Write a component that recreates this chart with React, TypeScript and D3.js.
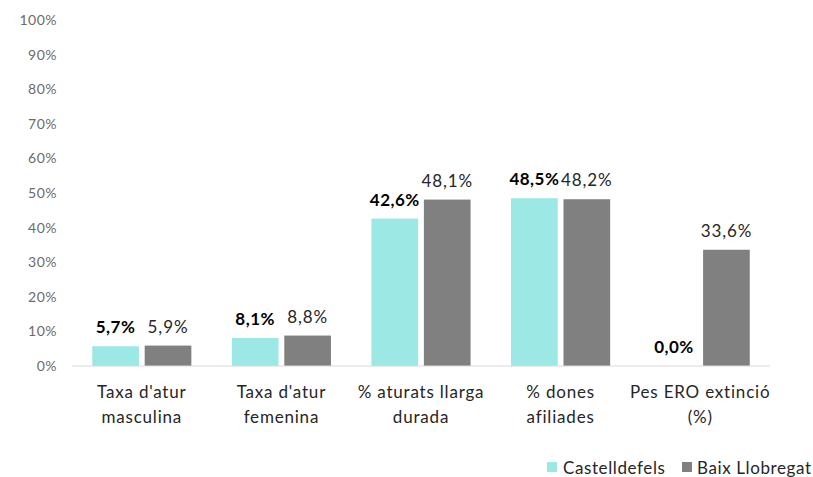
import React from "react"
import * as d3 from "d3"

const categories = [
  ["Taxa d'atur", "masculina"],
  ["Taxa d'atur", "femenina"],
  ["% aturats llarga", "durada"],
  ["% dones", "afiliades"],
  ["Pes ERO extinció", "(%)"],
]
const castelldefels = [5.7, 8.1, 42.6, 48.5, 0.0]
const baixLlobregat = [5.9, 8.8, 48.1, 48.2, 33.6]
const seriesNames = ["Castelldefels", "Baix Llobregat"]
const seriesColors = ["#9BE8E5", "#808080"]
const yTicks = [0, 10, 20, 30, 40, 50, 60, 70, 80, 90, 100]

const W = 813
const H = 477
const margin = { top: 20, right: 43, bottom: 111, left: 72 }
const FONT = "Lato, 'Open Sans', sans-serif"

const fmt = (v: number) => v.toFixed(1).replace(".", ",") + "%"

export default function App() {
  const x = d3
    .scaleBand()
    .domain(categories.map((_, i) => String(i)))
    .range([margin.left, W - margin.right])
    .paddingInner(0.29)
    .paddingOuter(0.145)

  const y = d3.scaleLinear().domain([0, 100]).range([H - margin.bottom, margin.top])

  const inner = d3.scaleBand().domain(["0", "1"]).range([0, x.bandwidth()]).paddingInner(0.11)

  const series = [castelldefels, baixLlobregat]

  return (
    <svg width={W} height={H} style={{ position: "absolute", left: 0, top: 0, fontFamily: FONT }}>
      <rect width={W} height={H} fill="#fff" />
      {/* y tick labels */}
      {yTicks.map((t) => (
        <text key={t} x={57} y={y(t)} dy="0.35em" textAnchor="end" fontSize={14} letterSpacing={0.5} fill="#6b6b6b">
          {t}%
        </text>
      ))}
      {/* bars */}
      {series.map((vals, s) =>
        vals.map((v, i) => {
          const bx = (x(String(i)) as number) + (inner(String(s)) as number)
          return (
            <rect
              key={`b${s}-${i}`}
              x={bx}
              y={y(v)}
              width={inner.bandwidth()}
              height={y(0) - y(v)}
              fill={seriesColors[s]}
            />
          )
        })
      )}
      {/* axis line */}
      <line x1={margin.left} x2={W - margin.right} y1={y(0)} y2={y(0)} stroke="#d9d9d9" strokeWidth={1} />
      {/* value labels */}
      {series.map((vals, s) =>
        vals.map((v, i) => {
          const cx = (x(String(i)) as number) + (inner(String(s)) as number) + inner.bandwidth() / 2
          return (
            <text
              key={`l${s}-${i}`}
              x={cx}
              y={y(v) - 19}
              dy="0.35em"
              textAnchor="middle"
              fontSize={17}
              letterSpacing={s === 0 ? 0.5 : 0.9}
              fontWeight={s === 0 ? "bold" : "normal"}
              fill={s === 0 ? "#000" : "#262626"}
            >
              {fmt(v)}
            </text>
          )
        })
      )}
      {/* category labels */}
      {categories.map((lines, i) => {
        const cx = (x(String(i)) as number) + x.bandwidth() / 2
        return (
          <text key={`c${i}`} x={cx} textAnchor="middle" fontSize={17} letterSpacing={0.8} fill="#262626">
            {lines.map((ln, k) => (
              <tspan key={k} x={cx} y={392 + k * 25} dy="0.35em">
                {ln}
              </tspan>
            ))}
          </text>
        )
      })}
      {/* legend */}
      <g fontSize={17} letterSpacing={0.6} fill="#262626">
        <rect x={547} y={462} width={10} height={10} fill={seriesColors[0]} />
        <text x={563} y={468} dy="0.35em">
          {seriesNames[0]}
        </text>
        <rect x={682} y={462} width={10} height={10} fill={seriesColors[1]} />
        <text x={697} y={468} dy="0.35em">
          {seriesNames[1]}
        </text>
      </g>
    </svg>
  )
}
